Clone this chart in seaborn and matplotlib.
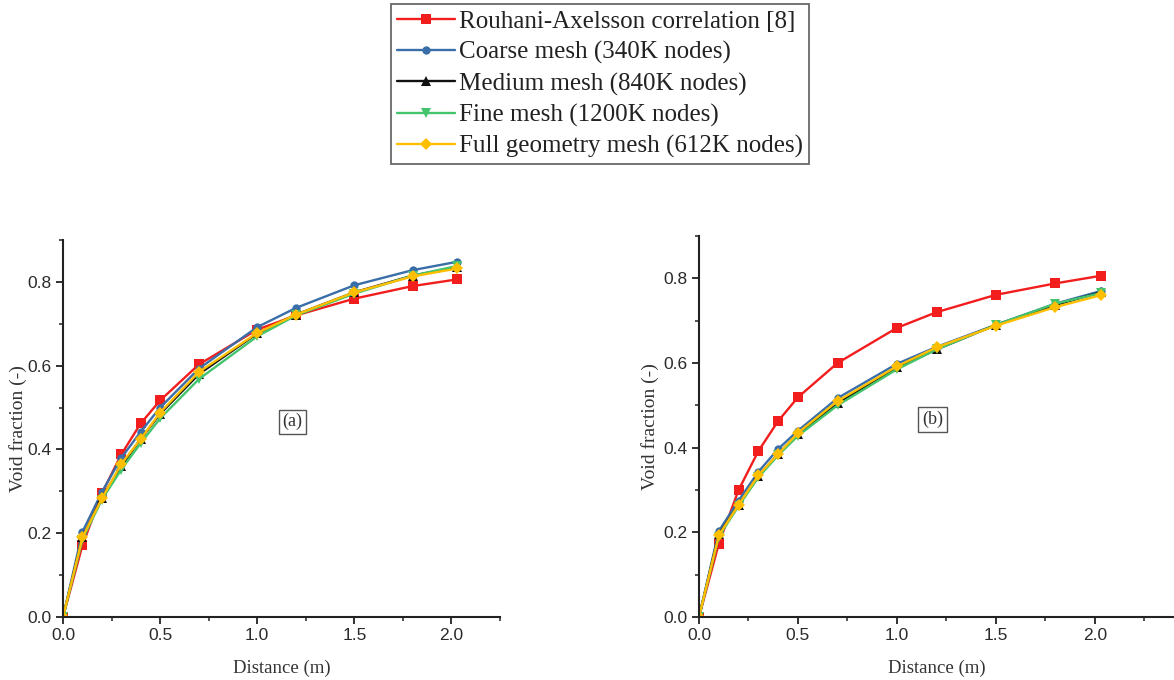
import matplotlib
matplotlib.use("Agg")
import matplotlib.pyplot as plt
from matplotlib.ticker import MultipleLocator
import seaborn as sns
import pandas as pd

sns.set_style("ticks")

distance = [0.0, 0.1, 0.2, 0.3, 0.4, 0.5, 0.7, 1.0, 1.2, 1.5, 1.8, 2.03]

series_names = [
    "Rouhani-Axelsson correlation [8]",
    "Coarse mesh (340K nodes)",
    "Medium mesh (840K nodes)",
    "Fine mesh (1200K nodes)",
    "Full geometry mesh (612K nodes)",
]

# Panel (a)
a_rouhani = [0.0, 0.171, 0.295, 0.388, 0.462, 0.517, 0.603, 0.686, 0.720, 0.760, 0.790, 0.806]
a_coarse  = [0.0, 0.203, 0.298, 0.380, 0.442, 0.500, 0.593, 0.692, 0.738, 0.792, 0.828, 0.848]
a_medium  = [0.0, 0.190, 0.285, 0.360, 0.425, 0.485, 0.580, 0.677, 0.722, 0.775, 0.815, 0.835]
a_fine    = [0.0, 0.185, 0.280, 0.352, 0.415, 0.474, 0.568, 0.670, 0.720, 0.772, 0.815, 0.838]
a_full    = [0.0, 0.190, 0.283, 0.365, 0.425, 0.488, 0.585, 0.678, 0.722, 0.775, 0.813, 0.832]

# Panel (b)
b_rouhani = [0.0, 0.173, 0.300, 0.392, 0.463, 0.519, 0.600, 0.683, 0.720, 0.761, 0.788, 0.806]
b_coarse  = [0.0, 0.203, 0.275, 0.343, 0.397, 0.440, 0.517, 0.598, 0.638, 0.690, 0.740, 0.770]
b_medium  = [0.0, 0.195, 0.265, 0.332, 0.385, 0.432, 0.505, 0.590, 0.632, 0.690, 0.737, 0.767]
b_fine    = [0.0, 0.190, 0.262, 0.330, 0.382, 0.428, 0.500, 0.585, 0.632, 0.690, 0.740, 0.765]
b_full    = [0.0, 0.193, 0.265, 0.335, 0.385, 0.435, 0.510, 0.592, 0.637, 0.688, 0.732, 0.760]

panel_labels = ["(a)", "(b)"]

colors = ["#f21d1d", "#3a6ea8", "#111111", "#45c46e", "#ffbf00"]
markers = ["s", "o", "^", "v", "D"]
msizes = [7, 6, 7, 7, 6]

panels = [
    [a_rouhani, a_coarse, a_medium, a_fine, a_full],
    [b_rouhani, b_coarse, b_medium, b_fine, b_full],
]

fig = plt.figure(figsize=(11.74, 6.8), dpi=100)
W, H = 1174, 680
ax_a = fig.add_axes([63 / W, (H - 617) / H, (500 - 63) / W, (617 - 240) / H])
ax_b = fig.add_axes([699 / W, (H - 617) / H, (1174 - 699) / W, (617 - 236) / H])
axes = [ax_a, ax_b]
xmax = [2.25, 2.40]
ylabel_x = [-0.083, -0.085]

serif = ["Liberation Serif", "DejaVu Serif"]
sans = ["Liberation Sans", "DejaVu Sans"]

for k, ax in enumerate(axes):
    for i, name in enumerate(series_names):
        df = pd.DataFrame({"x": distance, "y": panels[k][i]})
        sns.lineplot(data=df, x="x", y="y", ax=ax, color=colors[i], marker=markers[i],
                     markersize=msizes[i], markeredgewidth=0, linewidth=1.7,
                     label=name, legend=False, sort=False)
    ax.set_xlim(0, xmax[k])
    ax.set_ylim(0, 0.9)
    ax.xaxis.set_major_locator(MultipleLocator(0.5))
    ax.xaxis.set_minor_locator(MultipleLocator(0.25))
    ax.yaxis.set_major_locator(MultipleLocator(0.2))
    ax.yaxis.set_minor_locator(MultipleLocator(0.1))
    ax.tick_params(which="major", direction="out", length=5, width=1.3, colors="#222222",
                   labelsize=12.5, pad=3)
    ax.tick_params(which="minor", direction="out", length=3, width=1.1, colors="#222222")
    for lab in ax.get_xticklabels() + ax.get_yticklabels():
        lab.set_fontfamily(sans)
        lab.set_color("#2a2a2a")
    for s in ["top", "right"]:
        ax.spines[s].set_visible(False)
    for s in ["left", "bottom"]:
        ax.spines[s].set_linewidth(1.5)
        ax.spines[s].set_color("#222222")
    ax.set_xlabel("Distance (m)", family=serif, fontsize=13.5, color="#333333", labelpad=12)
    ax.set_ylabel("Void fraction (-)", family=serif, fontsize=14, color="#333333")
    ax.yaxis.set_label_coords(ylabel_x[k], 0.5)
    ax.text(1.18, 0.466, panel_labels[k], family=serif, fontsize=13, color="#333333",
            ha="center", va="center",
            bbox=dict(boxstyle="square,pad=0.2", fc="white", ec="#555555", lw=1.0))

handles, labels = ax_a.get_legend_handles_labels()
leg = fig.legend(handles, labels, loc="upper center", bbox_to_anchor=(0.511, 0.994),
                 prop={"family": serif, "size": 18}, frameon=True, fancybox=False,
                 handlelength=2.3, handletextpad=0.15, labelspacing=0.33, borderpad=0.25,
                 borderaxespad=0.0)
leg.get_frame().set_edgecolor("#444444")
leg.get_frame().set_linewidth(1.3)
for t in leg.get_texts():
    t.set_color("#222222")

fig.savefig("out.png", dpi=100)
